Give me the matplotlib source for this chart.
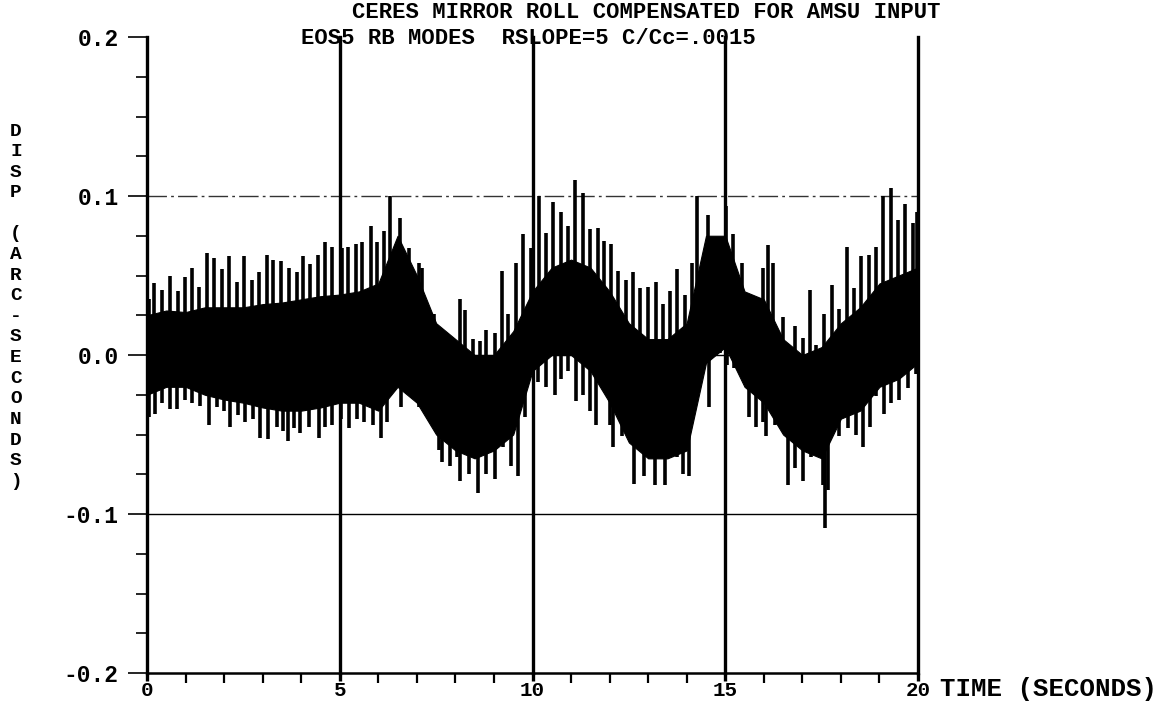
import matplotlib
matplotlib.use("Agg")
import matplotlib.pyplot as plt
import numpy as np
from matplotlib.ticker import MultipleLocator

# solid body of the trace (read every 0.5 s)
band_t = [0.0, 0.5, 1.0, 1.5, 2.0, 2.5, 3.0, 3.5, 4.0, 4.5, 5.0, 5.5, 6.0, 6.5,
          7.0, 7.5, 8.0, 8.5, 9.0, 9.5, 10.0, 10.5, 11.0, 11.5, 12.0, 12.5, 13.0,
          13.5, 14.0, 14.5, 15.0, 15.5, 16.0, 16.5, 17.0, 17.5, 18.0, 18.5, 19.0,
          19.5, 20.0]
band_top = [0.025, 0.028, 0.027, 0.030, 0.030, 0.030, 0.032, 0.033, 0.035, 0.037,
            0.038, 0.040, 0.045, 0.075, 0.050, 0.020, 0.010, 0.000, 0.000, 0.015,
            0.040, 0.055, 0.060, 0.055, 0.040, 0.020, 0.010, 0.010, 0.020, 0.075,
            0.075, 0.040, 0.035, 0.010, 0.000, 0.005, 0.020, 0.030, 0.045, 0.050,
            0.055]
band_bot = [-0.025, -0.020, -0.020, -0.025, -0.028, -0.030, -0.033, -0.035, -0.035,
            -0.033, -0.030, -0.030, -0.035, -0.020, -0.030, -0.050, -0.060, -0.065,
            -0.060, -0.050, -0.010, 0.000, 0.000, -0.010, -0.030, -0.055, -0.065,
            -0.065, -0.060, -0.005, 0.005, -0.020, -0.030, -0.050, -0.060, -0.065,
            -0.040, -0.035, -0.020, -0.015, -0.005]

# upward spikes
hi_t = [0.05, 0.17, 0.38, 0.60, 0.80, 0.99, 1.16, 1.36, 1.55, 1.74, 1.94, 2.13,
        2.33, 2.52, 2.72, 2.91, 3.10, 3.28, 3.48, 3.69, 3.89, 4.04, 4.24, 4.43,
        4.63, 4.81, 5.05, 5.22, 5.41, 5.58, 5.80, 5.97, 6.15, 6.30, 6.56, 6.80,
        7.05, 7.14, 7.44, 7.75, 8.11, 8.24, 8.46, 8.63, 8.80, 9.02, 9.22, 9.37,
        9.57, 9.76, 9.97, 10.17, 10.36, 10.54, 10.73, 10.92, 11.10, 11.30, 11.49,
        11.69, 11.85, 12.03, 12.23, 12.42, 12.60, 12.80, 12.99, 13.21, 13.38,
        13.56, 13.76, 13.96, 14.14, 14.28, 14.55, 14.74, 15.03, 15.20, 15.43,
        15.65, 15.99, 16.12, 16.23, 16.49, 16.80, 17.01, 17.21, 17.36, 17.57,
        17.76, 17.96, 18.16, 18.33, 18.53, 18.72, 18.91, 19.09, 19.29, 19.48,
        19.67, 19.87, 19.98]
hi_v = [0.035, 0.045, 0.041, 0.050, 0.040, 0.049, 0.055, 0.043, 0.064, 0.061,
        0.054, 0.062, 0.046, 0.062, 0.047, 0.052, 0.063, 0.060, 0.059, 0.055,
        0.052, 0.062, 0.057, 0.063, 0.071, 0.068, 0.067, 0.068, 0.070, 0.071,
        0.081, 0.071, 0.078, 0.100, 0.086, 0.067, 0.058, 0.055, 0.026, 0.010,
        0.035, 0.028, 0.010, 0.009, 0.016, 0.014, 0.053, 0.026, 0.058, 0.076,
        0.067, 0.100, 0.077, 0.096, 0.090, 0.081, 0.110, 0.102, 0.079, 0.080,
        0.072, 0.070, 0.053, 0.047, 0.052, 0.042, 0.043, 0.046, 0.032, 0.040,
        0.054, 0.038, 0.058, 0.100, 0.088, 0.064, 0.094, 0.076, 0.058, 0.036,
        0.055, 0.069, 0.058, 0.024, 0.018, 0.011, 0.041, 0.006, 0.026, 0.044,
        0.029, 0.068, 0.042, 0.062, 0.063, 0.068, 0.100, 0.105, 0.085, 0.095,
        0.083, 0.090]

# downward spikes
lo_t = [0.04, 0.21, 0.40, 0.60, 0.79, 0.98, 1.16, 1.38, 1.60, 1.81, 2.00, 2.16,
        2.36, 2.55, 2.75, 2.93, 3.15, 3.37, 3.52, 3.67, 3.82, 3.97, 4.20, 4.46,
        4.63, 4.80, 5.02, 5.24, 5.45, 5.63, 5.85, 6.06, 6.23, 6.58, 6.80, 7.05,
        7.27, 7.57, 7.66, 7.85, 8.04, 8.11, 8.35, 8.59, 8.80, 9.02, 9.24, 9.45,
        9.63, 9.80, 10.15, 10.35, 10.58, 10.75, 10.92, 11.14, 11.30, 11.49, 11.66,
        12.01, 12.10, 12.32, 12.62, 12.88, 13.18, 13.44, 13.74, 13.90, 14.05,
        14.18, 14.57, 14.87, 15.04, 15.22, 15.61, 15.80, 15.99, 16.06, 16.28,
        16.62, 16.80, 17.01, 17.23, 17.53, 17.59, 17.66, 17.96, 18.18, 18.38,
        18.57, 18.75, 18.91, 19.13, 19.30, 19.52, 19.74, 19.95]
lo_v = [-0.039, -0.037, -0.030, -0.034, -0.034, -0.028, -0.030, -0.032, -0.044,
        -0.033, -0.035, -0.045, -0.038, -0.042, -0.040, -0.052, -0.053, -0.045,
        -0.048, -0.054, -0.046, -0.049, -0.045, -0.052, -0.045, -0.044, -0.040,
        -0.046, -0.040, -0.042, -0.044, -0.052, -0.042, -0.033, -0.024, -0.033,
        -0.035, -0.060, -0.067, -0.070, -0.064, -0.079, -0.075, -0.087, -0.075,
        -0.078, -0.058, -0.070, -0.076, -0.039, -0.017, -0.020, -0.025, -0.015,
        -0.010, -0.029, -0.025, -0.035, -0.044, -0.044, -0.058, -0.051, -0.081,
        -0.076, -0.082, -0.082, -0.064, -0.075, -0.076, -0.035, -0.033, 0.001,
        -0.006, -0.008, -0.039, -0.045, -0.042, -0.051, -0.044, -0.082, -0.071,
        -0.079, -0.064, -0.082, -0.109, -0.085, -0.051, -0.046, -0.050, -0.058,
        -0.045, -0.026, -0.037, -0.030, -0.028, -0.021, -0.012]

ylabel_chars = list("DISP") + [""] + list("(ARC-SECONDS)")

plt.rcParams["font.family"] = ["Liberation Mono", "DejaVu Sans Mono"]
plt.rcParams["font.weight"] = "bold"

W, H = 1175, 703
fig = plt.figure(figsize=(W / 100, H / 100), dpi=100)
ax_l, ax_r, ax_t, ax_b = 147, 918, 37, 673
ax = fig.add_axes([ax_l / W, 1 - ax_b / H, (ax_r - ax_l) / W, (ax_b - ax_t) / H])

mid = (np.array(band_top) + np.array(band_bot)) / 2
ax.fill_between(band_t, band_bot, band_top, color="black", lw=0.8, zorder=3)
ax.vlines(hi_t, np.interp(hi_t, band_t, mid), hi_v, color="black", lw=2.6, zorder=3)
ax.vlines(lo_t, np.interp(lo_t, band_t, mid), lo_v, color="black", lw=2.6, zorder=3)

# grid
for x in [5, 10, 15, 20]:
    ax.axvline(x, color="black", lw=2.4, zorder=4, clip_on=False)
ax.axhline(0.1, color="#333333", lw=1.0, ls=(0, (14, 3, 2, 3)), zorder=2)
ax.axhline(0.0, color="black", lw=1.0, zorder=2)
ax.axhline(-0.1, color="black", lw=1.0, zorder=2)

ax.set_xlim(0, 20)
ax.set_ylim(-0.2, 0.2)
for s in ["top", "right"]:
    ax.spines[s].set_visible(False)
ax.spines["left"].set_linewidth(2.4)
ax.spines["bottom"].set_linewidth(1.8)

ax.set_xticks([0, 5, 10, 15, 20])
ax.set_xticklabels(["0", "5", "10", "15", "20"])
ax.xaxis.set_minor_locator(MultipleLocator(1))
ax.set_yticks([-0.2, -0.1, 0.0, 0.1, 0.2])
ax.set_yticklabels(["-0.2", "-0.1", "0.0", "0.1", "0.2"])
ax.yaxis.set_minor_locator(MultipleLocator(0.025))
ax.tick_params(axis="x", which="major", direction="out", length=6, width=2.4,
               labelsize=15, pad=0)
ax.tick_params(axis="x", which="minor", direction="out", length=7, width=1.6)
ax.tick_params(axis="y", which="major", direction="out", length=14, width=1.2,
               labelsize=16.5, pad=6.5)
ax.tick_params(axis="y", which="minor", direction="out", length=8, width=1.2)

fig.text(646 / W, 1 - 13 / H, "CERES MIRROR ROLL COMPENSATED FOR AMSU INPUT",
         ha="center", va="center", fontsize=16, fontweight="bold")
fig.text(528 / W, 1 - 38 / H, "EOS5 RB MODES  RSLOPE=5 C/Cc=.0015",
         ha="center", va="center", fontsize=16, fontweight="bold")
fig.text(940 / W, 1 - 689 / H, "TIME (SECONDS)", ha="left", va="center",
         fontsize=18.5, fontweight="bold")

y0, dy = 131, 20.6
for i, ch in enumerate(ylabel_chars):
    if ch:
        fig.text(16 / W, 1 - (y0 + i * dy) / H, ch, ha="center", va="center",
                 fontsize=14, fontweight="bold")

fig.savefig("out.png", dpi=100)
